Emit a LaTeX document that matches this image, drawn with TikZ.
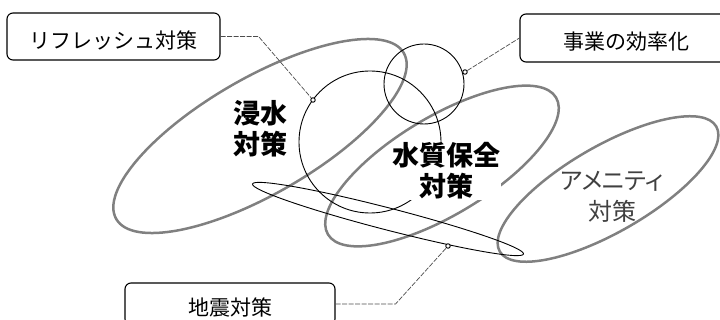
\documentclass[tikz,border=0pt]{standalone}
\usepackage{fontspec}
\newfontfamily\jp{Noto Sans CJK JP}
\newfontfamily\jpprop[RawFeature=+palt]{Noto Sans CJK JP}
\begin{document}
\begin{tikzpicture}[x=1pt,y=-1pt,
  grayring/.style={draw=black!50, line width=2.5pt},
  ring/.style={draw=black, line width=0.9pt},
  labelbox/.style={draw=black, line width=1.1pt, rounded corners=6pt,
    font=\jp\fontsize{21}{24}\selectfont, inner sep=0pt, text height=24pt, text depth=0pt},
  leader/.style={draw=black!70, line width=0.7pt, dash pattern=on 5pt off 1.5pt},
  pin/.style={circle, draw=black, fill=white, line width=0.9pt, inner sep=0pt, minimum size=4.5pt},
  biglabel/.style={font=\jp\bfseries\fontsize{27}{31}\selectfont, align=center, inner sep=0.5pt},
  amlabel/.style={font=\jpprop\fontsize{24}{31}\selectfont, align=center, inner sep=0.5pt, text=black!75},
]
\useasboundingbox (0,0) rectangle (720,320);

% gray ellipses
\draw[grayring, rotate around={30:(260,136)}] (260,136) ellipse [x radius=166, y radius=58];
\draw[grayring, rotate around={31:(442,166)}] (442,166) ellipse [x radius=133, y radius=49];
\draw[grayring, rotate around={30:(608,189)}] (608,189) ellipse [x radius=125, y radius=43];

% black circles / thin ellipse
\draw[ring] (370,142) circle [radius=71];
\draw[ring] (424,84) circle [radius=40];
\draw[ring, rotate around={-14.5:(388,219)}] (388,219) ellipse [x radius=140, y radius=11];

% inner labels
\node[biglabel] (shinsui) at (260,129) {浸水\\対策};
\node[biglabel, fill=white] (suishitsu) at (446,171) {水質保全\\対策};
\node[amlabel] (amenity) at (612,197) {アメニティ\\対策};

% boxes
\node[labelbox, minimum width=213pt, minimum height=47pt] (refresh) at (113.5,36.5) {リフレッシュ対策};
\node[labelbox, minimum width=212pt, minimum height=48pt] (jigyo) at (626,38) {事業の効率化};
\node[labelbox, minimum width=210pt, minimum height=42pt] (jishin) at (230,304) {地震対策};

% pins
\node[pin] (p1) at (313,100) {};
\node[pin] (p2) at (465,72) {};
\node[pin] (p3) at (448,246) {};

% leaders
\draw[leader] (refresh.east) -- ++(38,0) -- (p1);
\draw[leader] (p2) -- (jigyo.west);
\draw[leader] (jishin.east) -- ++(60,0) -- (p3);
\end{tikzpicture}
\end{document}
